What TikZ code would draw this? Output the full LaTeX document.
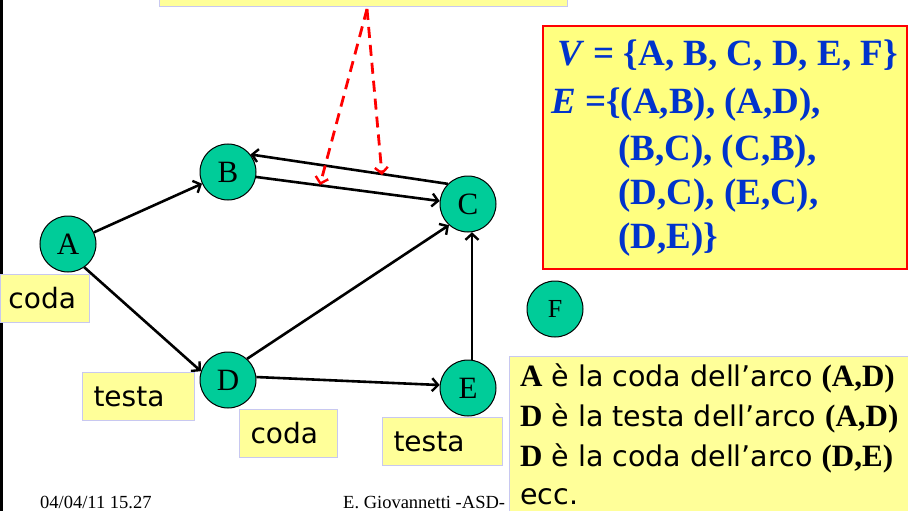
\documentclass[tikz,border=0pt]{standalone}
\usepackage{fontspec}
\setmainfont{Liberation Serif}
\newfontfamily\lblfont{DejaVu Sans}
\usetikzlibrary{arrows.meta}
\definecolor{nodegreen}{RGB}{0,204,153}
\definecolor{lblyellow}{RGB}{255,255,153}
\definecolor{boxyellow}{RGB}{255,255,128}
\definecolor{lavender}{RGB}{200,200,240}
\definecolor{setblue}{RGB}{0,51,204}
\definecolor{arrred}{RGB}{255,0,0}
\newcommand{\timesb}[1]{{\rmfamily\bfseries\fontsize{31}{31}\selectfont #1}}
\begin{document}
\begin{tikzpicture}[x=1pt,y=-1pt,
  vertex/.style={circle, draw=black, line width=1pt, fill=nodegreen, minimum size=56pt, inner sep=0pt, font=\fontsize{31}{31}\selectfont},
  edge/.style={line width=2.6pt, -{Straight Barb[length=6pt,width=13pt,line width=2.4pt]}},
  redarr/.style={arrred, line width=2.8pt, dash pattern=on 11pt off 7pt, -{Straight Barb[length=6pt,width=13pt,line width=2.4pt]}},
  lbl/.style={draw=lavender, line width=1pt, fill=lblyellow, anchor=north west, inner sep=0pt, minimum height=48pt, align=left, font=\lblfont\fontsize{28}{28}\selectfont},
  settxt/.style={anchor=west, inner sep=0pt, text=setblue, font=\bfseries\fontsize{37}{37}\selectfont},
  bigtxt/.style={anchor=west, inner sep=0pt, font=\lblfont\fontsize{28.5}{28.5}\selectfont},
  foot/.style={anchor=base west, inner sep=0pt, font=\fontsize{18.5}{18.5}\selectfont}
]
\useasboundingbox (0,0) rectangle (908,511);
\fill[black] (0,0) rectangle (3,511);

% top note box (only its bottom edge visible)
\node[draw=lavender, line width=1pt, fill=lblyellow, minimum width=408pt, minimum height=24pt, inner sep=0pt] (note) at (363,-5) {};

% vertices
\node[vertex] (A) at (68,244) {\raisebox{-3pt}{A}};
\node[vertex] (B) at (228,172) {\raisebox{-4pt}{B}};
\node[vertex] (C) at (468,204) {\raisebox{-4pt}{C}};
\node[vertex] (D) at (228,380) {\raisebox{-1pt}{D}};
\node[vertex] (E) at (468,388) {\raisebox{-4pt}{E}};
\node[vertex] (F) at (555,309) {\raisebox{-1pt}{\fontsize{26}{26}\selectfont F}};

% edges
\draw[edge] (A) -- (B);
\draw[edge] (A.-55) -- (D.162);
\draw[edge] (B.-10) -- (C.174);
\draw[edge] (C.135) -- (B.38);
\draw[edge] (D.48) -- (C.-132);
\draw[edge] (D.6) -- (E.174);
\draw[edge] (E.82) -- (C.-82);

% red dashed arrows
\coordinate (rs) at (367,9);
\coordinate (r1) at (320,185);
\coordinate (r2) at (382,175);
\draw[redarr] (rs) -- (r1);
\draw[redarr] (rs) -- (r2);

% labels
\node[lbl, minimum width=89pt, text width=89pt] (l1) at (0,274) {\hspace*{8pt}coda};
\node[lbl, minimum width=112pt, text width=112pt] (l2) at (82,372) {\hspace*{11pt}testa};
\node[lbl, minimum width=98pt, text width=98pt] (l3) at (239,409) {\hspace*{11pt}coda};
\node[lbl, minimum width=120pt, text width=120pt] (l4) at (382,417) {\hspace*{11pt}testa};

% set box
\node[draw=arrred, line width=2.2pt, fill=boxyellow, anchor=north west, minimum width=364pt, minimum height=243pt, inner sep=0pt] (setbox) at (542,25) {};
\node[settxt] (s1) at (557,56) {\textit{V} = \{A, B, C, D, E, F\}};
\node[settxt] (s2) at (551,105) {\textit{E} =\{(A,B), (A,D),};
\node[settxt] (s3) at (618,152) {(B,C), (C,B),};
\node[settxt] (s4) at (618,196) {(D,C), (E,C),};
\node[settxt] (s5) at (618,240) {(D,E)\}};

% footer
\node[foot] (f1) at (40,508) {04/04/11 15.27};
\node[foot] (f2) at (343,508) {E. Giovannetti -ASD- 1};

% explanation box
\node[draw=lavender, line width=1pt, fill=lblyellow, anchor=north west, minimum width=420pt, minimum height=170pt, inner sep=0pt] (expl) at (509,356) {};
\node[bigtxt] (e1) at (520,378) {\timesb{A} è la coda dell’arco \timesb{(A,D)}};
\node[bigtxt] (e2) at (520,418) {\timesb{D} è la testa dell’arco \timesb{(A,D)}};
\node[bigtxt] (e3) at (520,458) {\timesb{D} è la coda dell’arco \timesb{(D,E)}};
\node[bigtxt] (e4) at (520,497) {ecc.};
\end{tikzpicture}
\end{document}
